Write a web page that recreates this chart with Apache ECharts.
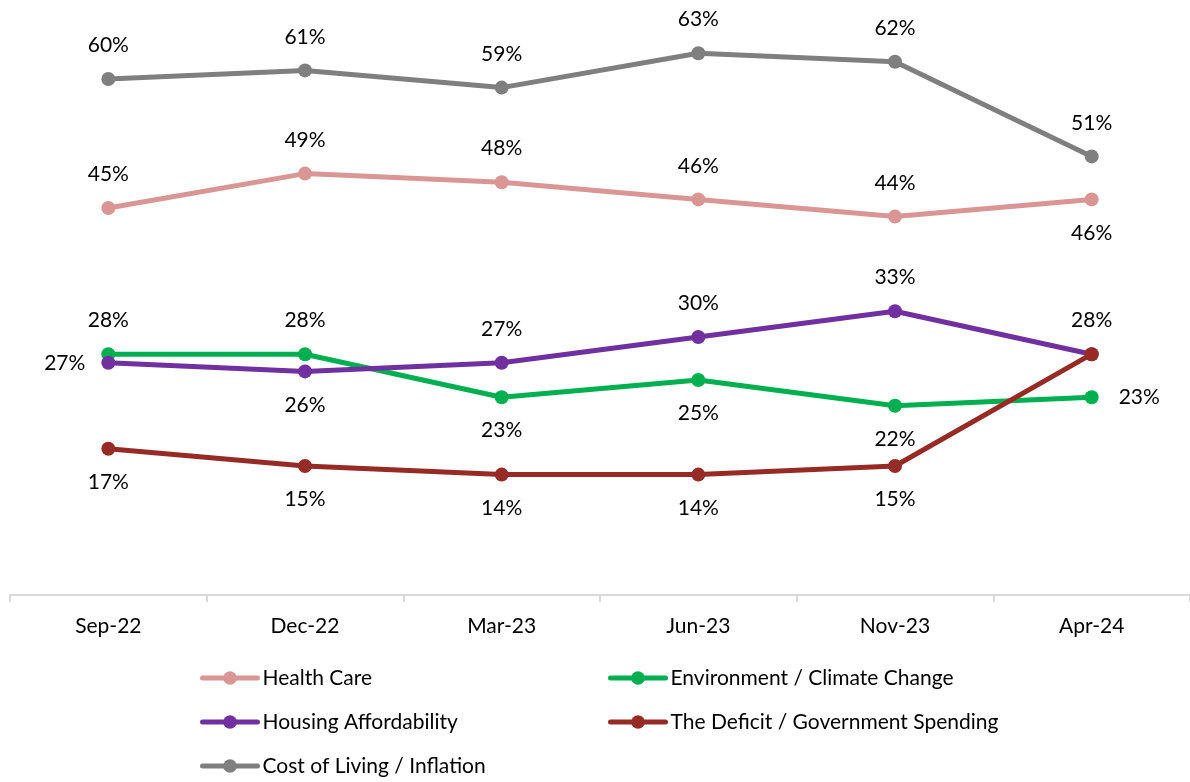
<!DOCTYPE html>
<html>
<head>
<meta charset="utf-8">
<script src="https://cdn.jsdelivr.net/npm/echarts@6/dist/echarts.min.js"></script>
<style>html,body{margin:0;padding:0;background:#fff}#c{width:1190px;height:782px}</style>
</head>
<body>
<div id="c"></div>
<script>
const categories = ['Sep-22','Dec-22','Mar-23','Jun-23','Nov-23','Apr-24'];
const healthCare = [45,49,48,46,44,46];
const environment = [28,28,23,25,22,23];
const housing = [27,26,27,30,33,28];
const deficit = [17,15,14,14,15,28];
const costOfLiving = [60,61,59,63,62,51];

const healthPos = ['top','top','top','top','top','bottom'];
const envPos = ['top','top','bottom','bottom','bottom','right'];
const housingPos = ['left','bottom','top','top','top','top'];
const deficitPos = ['bottom','bottom','bottom','bottom','bottom',null];
const costPos = ['top','top','top','top','top','top'];

const FONT = 'Lato';
function mk(name, values, color, positions){
  return {
    name: name, type: 'line', data: values.map((v,i)=>({
      value: v,
      label: positions[i] ? {show:true, position: positions[i], distance: positions[i]==='right'?20:16} : {show:false}
    })),
    symbol: 'circle', symbolSize: 14,
    lineStyle: {color: color, width: 5, cap: 'round'},
    itemStyle: {color: color},
    label: {formatter: '{c}%', fontSize: 21, fontFamily: FONT, color: '#000'},
    emphasis: {disabled: true},
    animation: false
  };
}
const legendCommon = {orient: 'vertical', top: 667, padding: 0, itemWidth: 55, itemHeight: 17, itemGap: 22,
  lineStyle: {width: 5, cap: 'round'}, height: 200,
  textStyle: {fontSize: 21, fontFamily: FONT, color: '#000', lineHeight: 22}};
const chart = echarts.init(document.getElementById('c'));
chart.setOption({
  animation: false,
  grid: {left: 10, right: -4, top: 36, bottom: 187, containLabel: false},
  xAxis: {
    type: 'category', data: categories, boundaryGap: true,
    axisLine: {lineStyle: {color: '#d9d9d9', width: 2}},
    axisTick: {show: true, length: 7, lineStyle: {color: '#d9d9d9', width: 2}},
    axisLabel: {fontSize: 21, fontFamily: FONT, color: '#000', margin: 21}
  },
  yAxis: {type: 'value', min: 0, max: 65, show: false, splitLine: {show: false}},
  legend: [
    Object.assign({left: 200, data: ['Health Care','Housing Affordability','Cost of Living / Inflation']}, legendCommon),
    Object.assign({left: 608, data: ['Environment / Climate Change','The Deficit / Government Spending']}, legendCommon)
  ],
  series: [
    mk('Cost of Living / Inflation', costOfLiving, '#7f7f7f', costPos),
    mk('Health Care', healthCare, '#d99694', healthPos),
    mk('Environment / Climate Change', environment, '#00b050', envPos),
    mk('Housing Affordability', housing, '#7030a0', housingPos),
    mk('The Deficit / Government Spending', deficit, '#962b26', deficitPos)
  ]
});
</script>
</body>
</html>
